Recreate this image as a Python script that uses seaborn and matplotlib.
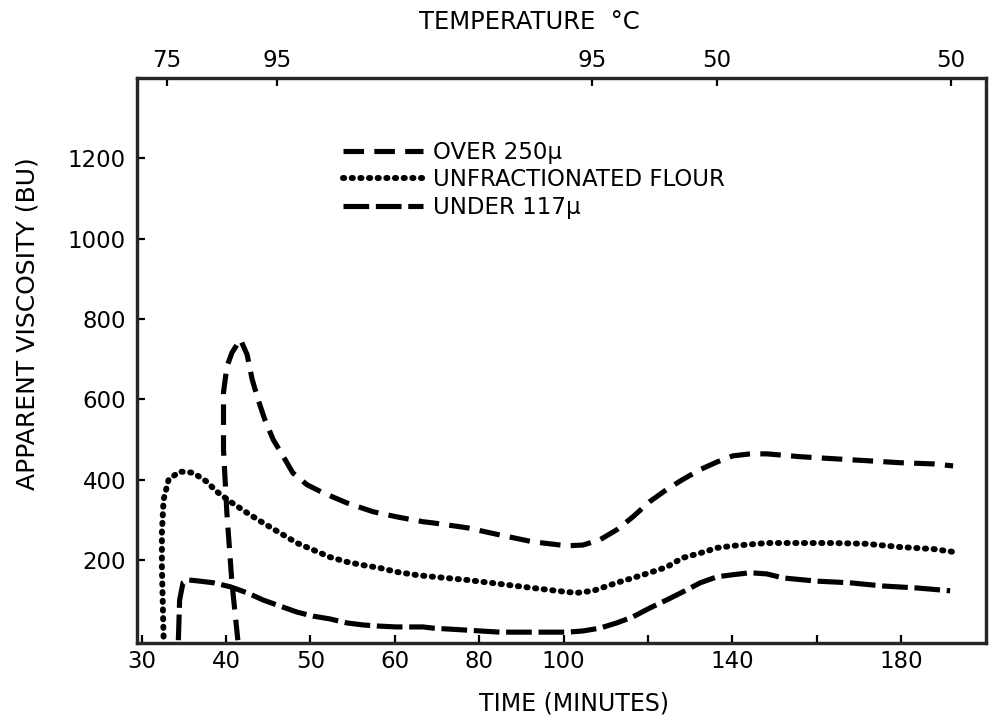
import numpy as np
import pandas as pd
import matplotlib
matplotlib.use("Agg")
import matplotlib.pyplot as plt
import seaborn as sns

# ---------------- data (time in minutes, viscosity in BU) ----------------
over_t = [41.4, 40.7, 40.1, 39.7, 39.7, 40.1, 40.7, 41.7, 42.5, 43.1, 43.8, 44.6,
          45.6, 46.8, 47.9, 49.6, 51.5, 54.3, 57.4, 60.5, 66.7, 69.1, 77.1, 84.9,
          92.7, 100.8, 104.6, 108.6, 112.6, 116.4, 120.4, 124.4, 128.2, 132.4,
          136.4, 140.1, 144.2, 148.2, 156.0, 163.8, 171.8, 179.7, 187.6, 192.3]
over_v = [0, 143, 317, 474, 617, 681, 716, 749, 711, 649, 599, 549,
          499, 457, 417, 387, 367, 342, 320, 307, 295, 292, 280, 262,
          245, 235, 237, 250, 275, 307, 345, 375, 400, 425,
          444, 459, 464, 464, 457, 452, 447, 442, 439, 434]

unfr_t = [32.6, 32.4, 32.4, 32.6, 33.2, 34.5, 36.1, 37.7, 38.9, 40.5, 42.5, 44.4,
          46.4, 48.4, 50.3, 52.3, 54.3, 56.2, 58.2, 60.4, 65.3, 69.1, 77.1, 84.9,
          92.7, 100.8, 103.2, 107.0, 112.6, 116.4, 120.4, 124.4, 128.2, 132.4,
          136.4, 140.1, 148.2, 156.0, 163.8, 171.8, 179.7, 187.6, 192.3]
unfr_v = [9, 183, 267, 350, 400, 420, 417, 395, 370, 345, 317, 292,
          267, 242, 225, 207, 195, 187, 180, 170, 162, 158, 150, 140,
          130, 120, 118, 123, 143, 155, 168, 182, 205, 217,
          230, 235, 242, 242, 242, 240, 232, 227, 220]

under_t = [34.35, 34.5, 34.9, 35.5, 36.5, 38.5, 40.5, 42.5, 44.4, 46.4, 48.4, 50.3,
           52.3, 54.3, 56.2, 58.2, 60.4, 66.7, 69.1, 77.1, 84.9, 92.7, 100.8, 104.6,
           108.6, 112.6, 116.4, 120.4, 124.4, 128.2, 132.4, 136.4, 140.1, 144.2,
           148.2, 152.0, 160.0, 167.8, 175.6, 183.8, 191.6]
under_v = [0, 100, 143, 150, 148, 143, 133, 118, 100, 85, 70, 60,
           53, 43, 38, 35, 33, 33, 30, 25, 20, 20, 20, 23,
           30, 43, 58, 80, 100, 120, 143, 158, 163, 168,
           165, 155, 147, 143, 135, 130, 123]

series_labels = ["OVER 250\u00b5", "UNFRACTIONATED FLOUR", "UNDER 117\u00b5"]

time_ticks = [30, 40, 50, 60, 80, 100, 120, 140, 160, 180]
time_ticklabels = ["30", "40", "50", "60", "80", "100", "", "140", "", "180"]
visc_ticks = [200, 400, 600, 800, 1000, 1200]

temp_ticks_time = [33.0, 46.0, 106.7, 136.4, 191.8]
temp_ticklabels = ["75", "95", "95", "50", "50"]

# ---------------- style ----------------
sns.set_style("ticks")
plt.rcParams["font.family"] = ["DejaVu Sans"]
plt.rcParams["text.color"] = "black"
plt.rcParams["axes.labelcolor"] = "black"
FS = 16.5


def fwd(t):
    t = np.asarray(t, dtype=float)
    return np.where(t <= 60, t, 60 + (t - 60) / 2.0)


def inv(p):
    p = np.asarray(p, dtype=float)
    return np.where(p <= 60, p, 60 + (p - 60) * 2.0)


fig = plt.figure(figsize=(9.91, 7.19), dpi=100)
ax = fig.add_axes([137 / 991, 1 - 643 / 719, (986 - 137) / 991, (643 - 78) / 719])
ax.set_xscale("function", functions=(fwd, inv))

styles = [
    dict(lw=3.7, dashes=(4.0, 2.0), capstyle="butt"),
    dict(lw=4.3, dashes=(0.2, 1.25), capstyle="round"),
    dict(lw=3.7, dashes=(5.0, 1.3), capstyle="butt"),
]
data = [(over_t, over_v), (unfr_t, unfr_v), (under_t, under_v)]
handles = []
for (tt, vv), lab, st in zip(data, series_labels, styles):
    df = pd.DataFrame({"t": tt, "v": vv})
    sns.lineplot(data=df, x="t", y="v", sort=False, estimator=None, ax=ax,
                 color="black", linewidth=st["lw"], label=lab)
    line = ax.get_lines()[-1]
    line.set_dashes(st["dashes"])
    line.set_dash_capstyle(st["capstyle"])
    line.set_solid_capstyle(st["capstyle"])
    handles.append(line)

ax.set_xlim(29.45, 200.1)
ax.set_ylim(-7, 1400)
ax.set_xticks(time_ticks)
ax.set_xticklabels(time_ticklabels)
ax.set_yticks(visc_ticks)
ax.tick_params(axis="both", direction="in", length=6, width=1.6,
               labelsize=FS, colors="black")
ax.tick_params(axis="x", pad=5)
ax.tick_params(axis="y", pad=8)
for s in ax.spines.values():
    s.set_linewidth(2.3)
    s.set_color("black")
    s.set_visible(True)

ax.set_xlabel("TIME (MINUTES)", fontsize=17)
ax.xaxis.set_label_coords(0.515, -0.085)
ax.set_ylabel("APPARENT VISCOSITY (BU)", fontsize=18)
ax.yaxis.set_label_coords(-0.115, 0.565)

# top temperature axis
ax2 = ax.twiny()
ax2.set_xscale("function", functions=(fwd, inv))
ax2.set_xlim(ax.get_xlim())
ax2.set_xticks(temp_ticks_time)
ax2.set_xticklabels(temp_ticklabels)
ax2.tick_params(axis="x", direction="in", length=6, width=1.6,
                labelsize=FS, pad=4, colors="black")
for s in ax2.spines.values():
    s.set_linewidth(2.3)
ax2.grid(False)
fig.text(529 / 991, 1 - 22 / 719, "TEMPERATURE  \u00b0C", fontsize=17.5,
         ha="center", va="center")

leg = ax.legend(handles=handles, labels=series_labels, loc="upper left",
                bbox_to_anchor=(0.2426, 0.888), frameon=False, fontsize=FS,
                handlelength=3.5, handletextpad=0.45, labelspacing=0.18,
                borderpad=0, borderaxespad=0)

fig.savefig("out.png", dpi=100)
